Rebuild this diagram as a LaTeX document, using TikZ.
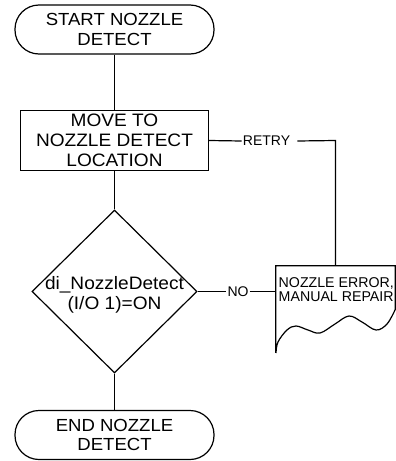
\documentclass[tikz,border=0pt]{standalone}
\usepackage{fontspec}
\setmainfont{Liberation Sans}
\newfontfamily\mainf[FakeStretch=1.06]{Liberation Sans}
\usetikzlibrary{shapes.geometric}
\tikzset{
  x=1pt, y=-1pt,
  line/.style={line width=1.2pt, black},
  term/.style={draw, line width=1.2pt, rounded corners=24pt, minimum width=199pt, minimum height=49pt, inner sep=0pt, align=center, font=\mainf\fontsize{17.5}{19.5}\selectfont},
  procbox/.style={draw, line width=1.2pt, minimum width=188pt, minimum height=60pt, inner sep=0pt, align=center, font=\mainf\fontsize{18}{20}\selectfont},
  decbox/.style={draw, diamond, line width=1.2pt, minimum width=165pt, minimum height=163pt, inner sep=0pt},
  dectext/.style={align=center, inner sep=0pt, font=\mainf\fontsize{18}{20}\selectfont},
  lbl/.style={inner sep=1pt, font=\fontsize{14}{15}\selectfont},
  doctext/.style={inner sep=0pt, align=left, font=\fontsize{14.2}{14.3}\selectfont}
}
\begin{document}
\begin{tikzpicture}
\useasboundingbox (0,0) rectangle (396,461);
\node[term] (start) at (114.5,29.5) {START NOZZLE\\DETECT};
\node[procbox] (move) at (114.5,140.5) {MOVE TO\\NOZZLE DETECT\\LOCATION};
\node[decbox] (dec) at (114.5,291.5) {};
\node[dectext] (dect) at (114.5,295) {di\_NozzleDetect\\(I/O 1)=ON};
\node[term] (end) at (114.5,435) {END NOZZLE\\DETECT};
% document shape
\node[minimum width=119pt, minimum height=87pt, inner sep=0pt] (doc) at (335.5,309.5) {};
\draw[line] (doc.north west) ++(0,87) -- (doc.north west) -- (doc.north east) -- ++(0,44)
  plot[smooth, tension=0.6] coordinates {(395,310) (387,324) (376,330) (362,322) (349,316) (335,324) (320,333) (308,330) (296,326) (287,330) (278,342) (276,353)};
\node[doctext, anchor=north west] (doct) at (278.5,277.5) {NOZZLE ERROR,\\MANUAL REPAIR};
% connectors
\draw[line] (start) -- (move);
\draw[line] (move) -- (dec);
\draw[line] (dec) -- (end);
\node[lbl] (retry) at (266.5,141) {RETRY};
\coordinate (corner) at (doc.north |- move.east);
\draw[line] (move.east) -- (retry.west);
\draw[line] (retry.east) ++(6,0) -- (corner) -- (doc.north);
\node[lbl] (no) at (238,291.5) {NO};
\draw[line] (dec.east) -- (no.west);
\draw[line] (no.east) -- (no.east -| doc.west);
\end{tikzpicture}
\end{document}
